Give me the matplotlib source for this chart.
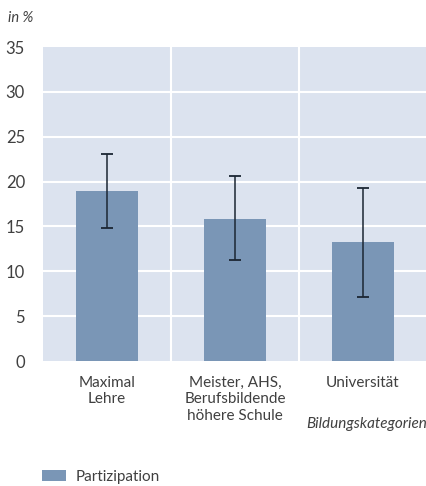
import numpy as np
import matplotlib.pyplot as plt

plt.rcParams['font.family'] = ['Lato', 'DejaVu Sans']

# data
categories = ["Maximal\nLehre", "Meister, AHS,\nBerufsbildende\nhöhere Schule", "Universität"]
values = [18.9, 15.8, 13.3]
err_low = [14.8, 11.3, 7.1]
err_high = [23.1, 20.6, 19.3]
yticks = [0, 5, 10, 15, 20, 25, 30, 35]

bg = "#dce3ef"
bar_col = "#7a96b6"
txt = "#404040"

fig = plt.figure(figsize=(4.27, 4.86), dpi=100)
ax = fig.add_axes([43 / 427, 1 - 361 / 486, 1 - 43 / 427, (361 - 47) / 486])
ax.set_facecolor(bg)

x = np.arange(len(categories))
vals = np.array(values)
yerr = np.array([vals - np.array(err_low), np.array(err_high) - vals])
ax.bar(x, vals, width=0.48, color=bar_col, zorder=2, label="Partizipation")
ax.errorbar(x, vals, yerr=yerr, fmt='none', ecolor="#1b2633", elinewidth=1.1,
            capsize=4.5, capthick=1.3, zorder=3)

ax.set_xlim(-0.5, len(categories) - 0.5)
ax.set_ylim(0, 35)
ax.set_yticks(yticks)
ax.set_xticks(x)
ax.set_xticklabels(categories, fontsize=11, color=txt, linespacing=1.2)
ax.tick_params(axis='y', labelsize=12, colors=txt, length=0, pad=13)
ax.tick_params(axis='x', length=0, pad=11, colors=txt)

for yv in yticks[1:-1]:
    ax.axhline(yv, color="white", lw=1.5, zorder=1)
for xv in x[:-1] + 0.5:
    ax.axvline(xv, color="white", lw=1.5, zorder=1)

for s in ax.spines.values():
    s.set_visible(False)

fig.text(8 / 427, 1 - 18 / 486, "in %", style='italic', fontsize=10.5, color=txt, va='center')
fig.text(1.0, 1 - 424 / 486, "Bildungskategorien", style='italic', fontsize=11,
         color=txt, ha='right', va='center')

fig.legend(loc='center left', bbox_to_anchor=(42 / 427, 1 - 477 / 486), frameon=False,
           fontsize=11, labelcolor=txt, handlelength=1.6, handleheight=0.75,
           handletextpad=0.6, borderaxespad=0, borderpad=0)

fig.savefig("out.png", dpi=100)
